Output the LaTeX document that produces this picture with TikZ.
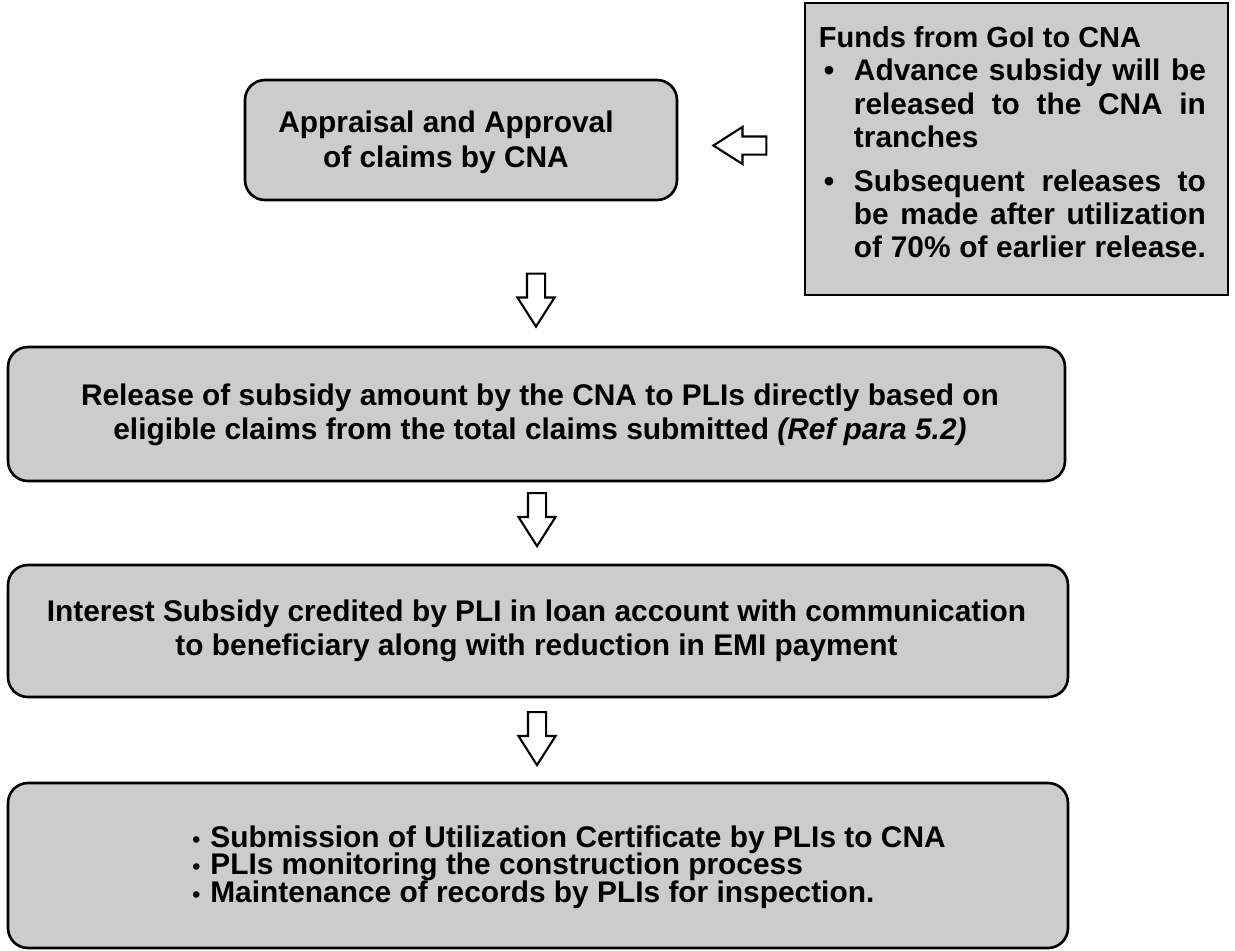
\documentclass[tikz,border=0pt]{standalone}
\usepackage{fontspec}
\setmainfont{Liberation Sans}
\usetikzlibrary{shapes.arrows}
\definecolor{boxgray}{gray}{0.80}
\tikzset{
    stepbox/.style={draw, line width=1.5pt, rounded corners=0.4cm, fill=boxgray},
    steptext/.style={font=\bfseries\fontsize{17}{19.4}\selectfont, align=center, inner sep=0pt},
    blockarrow/.style={single arrow, draw, line width=1.2pt, fill=white, inner sep=0.16cm,
        minimum height=1.06cm, minimum width=0.7cm, single arrow head extend=0.19cm,
        single arrow tip angle=65}
}
\newcommand{\smallbullet}{\makebox[0.36cm][l]{\fontsize{13}{13}\selectfont\textbullet}}
\begin{document}
\begin{tikzpicture}
    \useasboundingbox (0, 0) rectangle (24.7, -19.02);
    \node[stepbox, minimum width=8.64cm, minimum height=2.4cm] (approval) at(9.22, -2.8) {};
    \node[steptext, font=\bfseries\fontsize{17}{20}\selectfont] (approvaltext) at(8.92, -2.84) {Appraisal and Approval\\of claims by CNA};
    \node[draw, line width=1.6pt, fill=boxgray, minimum width=8.46cm, minimum height=5.84cm] (funds) at(20.33, -2.98) {};
    \node[steptext, align=left, anchor=north west, font=\bfseries\fontsize{17}{18.8}\selectfont] (fundstext) at([xshift=0.3cm, yshift=-0.5cm]funds.north west) {%
        {\fontsize{16.5}{18.8}\selectfont Funds from GoI to CNA}\\
        \makebox[0.7cm][l]{\hspace{0.1cm}\textbullet}\makebox[7.04cm][s]{Advance subsidy will be}\\
        \hspace*{0.7cm}\makebox[7.04cm][s]{released to the CNA in}\\
        \hspace*{0.7cm}tranches\\[0.22cm]
        \makebox[0.7cm][l]{\hspace{0.1cm}\textbullet}\makebox[7.04cm][s]{Subsequent releases to}\\
        \hspace*{0.7cm}\makebox[7.04cm][s]{be made after utilization}\\
        \hspace*{0.7cm}\makebox[7.04cm][s]{of 70\% of earlier release.}};
    \node[blockarrow, shape border rotate=180] (arrowfunds) at(14.94, -2.91) {};
    \node[blockarrow, shape border rotate=270] (arrowa) at(10.72, -5.86) {};
    \node[stepbox, minimum width=21.14cm, minimum height=2.68cm] (release) at(10.73, -8.28) {};
    \node[steptext] (releasetext) at(10.8, -8.3) {Release of subsidy amount by the CNA to PLIs directly based on\\eligible claims from the total claims submitted \textit{(Ref para 5.2)}};
    \node[blockarrow, shape border rotate=270] (arrowb) at(10.74, -10.25) {};
    \node[stepbox, minimum width=21.2cm, minimum height=2.64cm] (credit) at(10.76, -12.62) {};
    \node[steptext] (credittext) at(10.73, -12.62) {Interest Subsidy credited by PLI in loan account with communication\\to beneficiary along with reduction in EMI payment};
    \node[blockarrow, shape border rotate=270] (arrowc) at(10.74, -14.63) {};
    \node[stepbox, minimum width=21.2cm, minimum height=3.3cm] (records) at(10.76, -17.31) {};
    \node[steptext, anchor=west] (recordstext) at(3.84, -17.34) {\vbox{\baselineskip=15.6pt\lineskiplimit=-100pt\relax
        \hbox{\smallbullet Submission of Utilization Certificate by PLIs to CNA}
        \hbox{\smallbullet PLIs monitoring the construction process}
        \hbox{\smallbullet Maintenance of records by PLIs for inspection.}}};
\end{tikzpicture}
\end{document}
